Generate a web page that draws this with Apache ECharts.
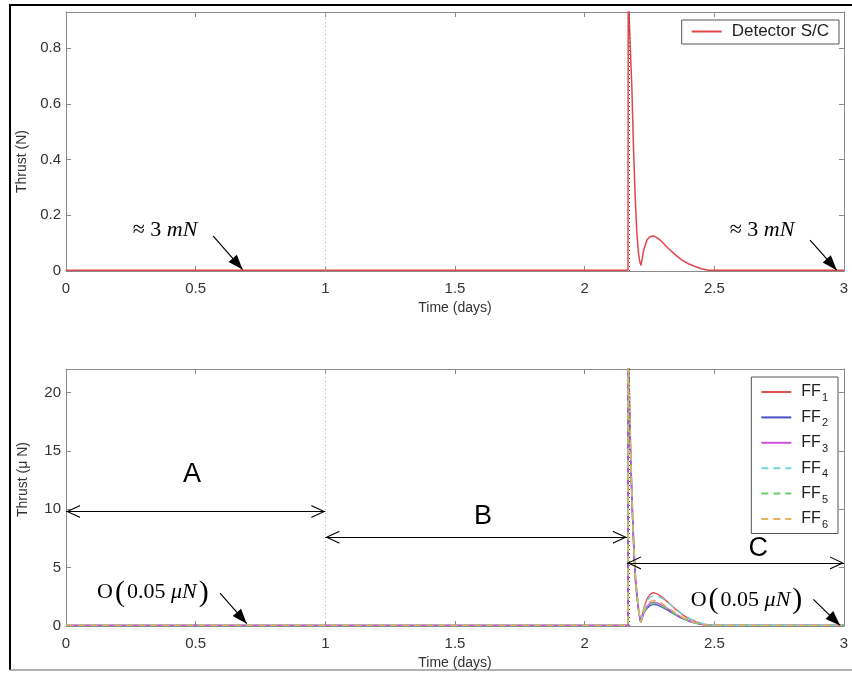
<!DOCTYPE html>
<html>
<head>
<meta charset="utf-8">
<title>Thrust profiles</title>
<script src="https://cdn.jsdelivr.net/npm/echarts@6/dist/echarts.min.js"></script>
<style>
  html, body { margin: 0; padding: 0; background: #fff; }
  #chart { width: 852px; height: 676px; }
</style>
</head>
<body>
<div id="chart"></div>
<script>
// Detector spacecraft thrust (N) against time (days)
const detTime = [0, 2.167, 2.168, 2.172, 2.182, 2.188, 2.195, 2.201, 2.207, 2.212, 2.217, 2.222, 2.226, 2.240, 2.252, 2.265, 2.278, 2.291, 2.323, 2.35, 2.374, 2.40, 2.426, 2.45, 2.477, 3];
const detThrust = [0.003, 0.003, 1.05, 0.9, 0.656, 0.453, 0.261, 0.141, 0.069, 0.035, 0.02, 0.045, 0.069, 0.111, 0.123, 0.126, 0.12, 0.111, 0.081, 0.058, 0.040, 0.026, 0.016, 0.008, 0.003, 0.003];

// Free-flyer thrust (micro-newton) against time (days)
const ffTime = [0, 2.167, 2.168, 2.172, 2.178, 2.184, 2.19, 2.196, 2.202, 2.208, 2.213, 2.217, 2.222, 2.228, 2.24, 2.252, 2.265, 2.28, 2.3, 2.325, 2.35, 2.375, 2.4, 2.43, 2.46, 2.49, 3];
const ff1 = [0.05, 0.05, 26, 20.5, 14.5, 10.2, 6.8, 4.2, 2.7, 1.5, 0.7, 0.35, 0.9, 1.55, 2.3, 2.7, 2.85, 2.75, 2.45, 1.95, 1.45, 1.0, 0.65, 0.35, 0.15, 0.07, 0.05];
const ff2 = [0.05, 0.05, 24, 19, 13.5, 9.5, 6.2, 3.8, 2.4, 1.3, 0.6, 0.3, 0.7, 1.1, 1.5, 1.75, 1.85, 1.8, 1.6, 1.3, 0.95, 0.66, 0.43, 0.23, 0.1, 0.05, 0.05];
const ff3 = [0.05, 0.05, 25, 19.5, 14, 9.8, 6.4, 3.9, 2.5, 1.35, 0.62, 0.3, 0.75, 1.2, 1.7, 1.95, 2.05, 1.98, 1.76, 1.42, 1.05, 0.72, 0.47, 0.25, 0.11, 0.05, 0.05];
const ff4 = [0.05, 0.05, 27, 21.5, 15, 10.6, 7.1, 4.4, 2.8, 1.55, 0.72, 0.35, 0.85, 1.45, 2.1, 2.45, 2.6, 2.58, 2.35, 1.95, 1.5, 1.05, 0.7, 0.38, 0.17, 0.07, 0.05];
const ff5 = [0.05, 0.05, 24.5, 19.2, 13.8, 9.6, 6.3, 3.85, 2.45, 1.3, 0.6, 0.28, 0.72, 1.15, 1.6, 1.85, 1.95, 1.9, 1.68, 1.36, 1.0, 0.7, 0.45, 0.24, 0.1, 0.05, 0.05];
const ff6 = [0.05, 0.05, 25.5, 20, 14.2, 10, 6.6, 4.0, 2.6, 1.4, 0.65, 0.32, 0.78, 1.3, 1.82, 2.1, 2.2, 2.13, 1.9, 1.53, 1.13, 0.78, 0.5, 0.27, 0.12, 0.06, 0.05];

const ffNames = ['FF1', 'FF2', 'FF3', 'FF4', 'FF5', 'FF6'];
const ffValues = [ff1, ff2, ff3, ff4, ff5, ff6];
const ffColors = ['#e4504f', '#4b4fc6', '#cc55d6', '#70d6de', '#6dcc6d', '#e6b45c'];
const ffDash = ['solid', 'solid', 'solid', [7, 5], [7, 5], [7, 5]];

// Phase boundaries (days)
const phaseBounds = [1, 2.167];

const SANS = 'Liberation Sans, Arial, Helvetica, sans-serif';
const SERIF = 'Liberation Serif, Times New Roman, serif';
const AXIS_GRAY = '#8a8a8a';

const zip = (xs, ys) => xs.map((x, i) => [x, ys[i]]);

function xAxisPair(grid) {
  const base = {
    gridIndex: grid, type: 'value', min: 0, max: 3, interval: 0.5,
    axisLine: { onZero: false, lineStyle: { color: AXIS_GRAY, width: 1 } },
    axisTick: { inside: true, length: 5, lineStyle: { color: AXIS_GRAY } },
    splitLine: { show: false }
  };
  return [
    Object.assign({}, base, {
      position: 'bottom',
      name: 'Time (days)', nameLocation: 'middle', nameGap: 30,
      nameTextStyle: { fontFamily: SANS, fontSize: 14, color: '#333' },
      axisLabel: { fontFamily: SANS, fontSize: 15, color: '#333', margin: 10 }
    }),
    Object.assign({}, base, { position: 'top', axisLabel: { show: false } })
  ];
}

function yAxisPair(grid, max, interval, name, namePad) {
  const base = {
    gridIndex: grid, type: 'value', min: 0, max: max, interval: interval,
    axisLine: { onZero: false, lineStyle: { color: AXIS_GRAY, width: 1 } },
    axisTick: { inside: true, length: 5, lineStyle: { color: AXIS_GRAY } },
    splitLine: { show: false }
  };
  return [
    Object.assign({}, base, {
      position: 'left',
      name: name, nameLocation: 'middle', nameGap: 36,
      nameTextStyle: { fontFamily: SANS, fontSize: 14, color: '#333', padding: namePad },
      axisLabel: { fontFamily: SANS, fontSize: 15, color: '#333', margin: 5, showMaxLabel: false }
    }),
    Object.assign({}, base, { position: 'right', axisLabel: { show: false } })
  ];
}

// open chevron head for the phase-span arrows
const CHEVRON = 'path://M0,10 L5,0 L10,10 L9.1,10 L5,1.8 L0.9,10 Z';

function pointer(from, to) {
  return [
    { coord: from, symbol: 'none' },
    { coord: to, symbol: 'triangle', symbolSize: [11, 15], symbolOffset: [0, '50%'] }
  ];
}
function span(from, to) {
  return [
    { coord: from, symbol: CHEVRON, symbolSize: [13, 14], symbolOffset: [0, '50%'] },
    { coord: to, symbol: CHEVRON, symbolSize: [13, 14], symbolOffset: [0, '50%'] }
  ];
}
function textMark(coord, text) {
  return {
    coord: coord, symbol: 'circle', symbolSize: 1,
    itemStyle: { color: 'rgba(0,0,0,0)' },
    label: { show: true, position: 'inside', formatter: text }
  };
}

const mathRich = {
  r: { fontFamily: SERIF, fontSize: 22, color: '#000' },
  i: { fontFamily: SERIF, fontSize: 22, fontStyle: 'italic', color: '#000' },
  p: { fontFamily: SERIF, fontSize: 30, color: '#000', padding: [0, 2, 0, 2] },
  big: { fontFamily: SANS, fontSize: 27, color: '#000' }
};

function phaseLines(grid) {
  return {
    symbol: 'none', silent: true, animation: false,
    label: { show: false },
    data: [
      { xAxis: phaseBounds[0], lineStyle: { color: '#b0b0b0', type: [1, 3], width: 1 } },
      { xAxis: phaseBounds[1], lineStyle: { color: '#555', type: [1, 3], width: 1 } }
    ]
  };
}

const series = [
  // top panel: phase boundaries and notes
  {
    name: 'notes-top', type: 'line', xAxisIndex: 0, yAxisIndex: 0, data: [], z: 1,
    markLine: phaseLines(0),
    markPoint: {
      silent: true, animation: false,
      label: { rich: mathRich },
      data: [
        textMark([0.382, 0.146], '{r|≈ 3 }{i|mN}'),
        textMark([2.684, 0.146], '{r|≈ 3 }{i|mN}')
      ]
    }
  },
  {
    name: 'arrows-top', type: 'line', xAxisIndex: 0, yAxisIndex: 0, data: [], z: 4,
    markLine: {
      silent: true, animation: false, label: { show: false },
      lineStyle: { color: '#000', type: 'solid', width: 1.2 },
      data: [
        pointer([0.567, 0.126], [0.681, 0.005]),
        pointer([2.869, 0.111], [2.972, 0.003])
      ]
    }
  },
  {
    name: 'Detector S/C', type: 'line', xAxisIndex: 0, yAxisIndex: 0, z: 3,
    data: zip(detTime, detThrust), showSymbol: false, symbol: 'none',
    lineStyle: { color: '#e0474a', width: 1.5 }, itemStyle: { color: '#e0474a' }
  },
  // bottom panel: phase boundaries, spans and notes
  {
    name: 'notes-bottom', type: 'line', xAxisIndex: 2, yAxisIndex: 2, data: [], z: 1,
    markLine: phaseLines(1),
    markPoint: {
      silent: true, animation: false,
      label: { rich: mathRich },
      data: [
        textMark([0.486, 13.0], '{big|A}'),
        textMark([1.608, 9.4], '{big|B}'),
        textMark([2.669, 6.6], '{big|C}'),
        textMark([0.339, 2.85], '{r|O}{p|(}{r|0.05 }{i|μN}{p|)}'),
        textMark([2.628, 2.2], '{r|O}{p|(}{r|0.05 }{i|μN}{p|)}')
      ]
    }
  },
  {
    name: 'arrows-bottom', type: 'line', xAxisIndex: 2, yAxisIndex: 2, data: [], z: 4,
    markLine: {
      silent: true, animation: false, label: { show: false },
      lineStyle: { color: '#000', type: 'solid', width: 1.2 },
      data: [
        span([0, 9.8], [1, 9.8]),
        span([1, 7.6], [2.163, 7.6]),
        span([2.163, 5.4], [3, 5.4]),
        pointer([0.594, 2.82], [0.697, 0.2]),
        pointer([2.882, 2.28], [2.985, 0.05])
      ]
    }
  }
];

ffNames.forEach((name, k) => {
  series.push({
    name: name, type: 'line', xAxisIndex: 2, yAxisIndex: 2, z: 3,
    data: zip(ffTime, ffValues[k]), showSymbol: false, symbol: 'none',
    lineStyle: { color: ffColors[k], width: 1.4, type: ffDash[k] },
    itemStyle: { color: ffColors[k] }
  });
});

const chart = echarts.init(document.getElementById('chart'), null, { renderer: 'canvas' });

chart.setOption({
  animation: false,
  backgroundColor: '#fff',
  textStyle: { fontFamily: SANS },
  grid: [
    { left: 66, top: 12, width: 778, height: 259 },
    { left: 66, top: 369, width: 778, height: 257 }
  ],
  xAxis: xAxisPair(0).concat(xAxisPair(1)),
  yAxis: yAxisPair(0, 0.93, 0.2, 'Thrust (N)', [0, 40, 0, 0])
    .concat(yAxisPair(1, 22, 5, 'Thrust (μ N)', [0, 0, 0, 36])),
  legend: [
    {
      data: ['Detector S/C'],
      right: 13, top: 20,
      padding: [3, 10, 4, 9],
      itemWidth: 30, itemHeight: 14,
      itemStyle: { opacity: 0 },
      borderColor: '#555', borderWidth: 1, backgroundColor: '#fff',
      formatter: n => '{t|' + n + '}',
      textStyle: { rich: { t: { fontFamily: SANS, fontSize: 17, color: '#222', padding: [0, 0, 0, 5] } } }
    },
    {
      data: ffNames,
      orient: 'vertical',
      right: 14, top: 377,
      padding: [7, 10, 3, 9],
      itemWidth: 30, itemHeight: 14, itemGap: 5.9,
      itemStyle: { opacity: 0 },
      borderColor: '#555', borderWidth: 1, backgroundColor: '#fff',
      formatter: n => '{n|FF}{s|' + n.slice(2) + '}',
      textStyle: {
        rich: {
          n: { fontFamily: SANS, fontSize: 16, color: '#222', padding: [0, 0, 0, 5] },
          s: { fontFamily: SANS, fontSize: 11, color: '#222', padding: [12, 0, 0, 1] }
        }
      }
    }
  ],
  graphic: [
    { type: 'line', silent: true, shape: { x1: 10, y1: 5, x2: 852, y2: 5 }, style: { stroke: '#000', lineWidth: 2 } },
    { type: 'line', silent: true, shape: { x1: 10, y1: 4, x2: 10, y2: 670 }, style: { stroke: '#000', lineWidth: 2 } },
    { type: 'line', silent: true, shape: { x1: 10, y1: 670, x2: 852, y2: 670 }, style: { stroke: '#999', lineWidth: 1.5 } }
  ],
  series: series
});
</script>
</body>
</html>
